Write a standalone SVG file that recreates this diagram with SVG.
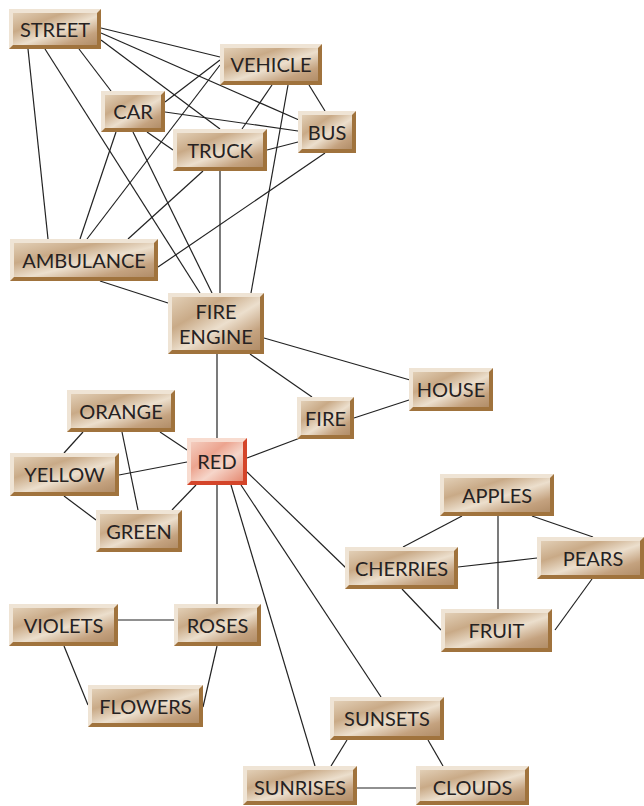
<svg xmlns="http://www.w3.org/2000/svg" width="644" height="806" viewBox="0 0 644 806">
  <defs>
    <linearGradient id="face" x1="0" y1="0" x2="1" y2="1">
      <stop offset="0" stop-color="#e2cfb6"/>
      <stop offset="0.3" stop-color="#c9aa87"/>
      <stop offset="0.55" stop-color="#ecdfcd"/>
      <stop offset="0.8" stop-color="#c4a27f"/>
      <stop offset="1" stop-color="#b18d68"/>
    </linearGradient>
    <linearGradient id="faceRed" x1="0" y1="0" x2="1" y2="1">
      <stop offset="0" stop-color="#f4cdbf"/>
      <stop offset="0.35" stop-color="#eca48f"/>
      <stop offset="0.6" stop-color="#f6d6ca"/>
      <stop offset="1" stop-color="#e58a72"/>
    </linearGradient>
    <style>
      .edges line { stroke: #222; stroke-width: 1.2; }
      .dark { fill: #a0733d; }
      .light { fill: #efe4d5; }
      .face { fill: url(#face); }
      .red .dark { fill: #d4452a; }
      .red .light { fill: #f8dcd0; }
      .red .face { fill: url(#faceRed); }
      text { font-family: Lato, "Liberation Sans", sans-serif; font-size: 20px; fill: #262222; text-anchor: middle; }
    </style>
  </defs>
  <rect width="644" height="806" fill="#ffffff"/>

  <g class="edges">
    <line x1="101" y1="28" x2="220" y2="57"/>
    <line x1="101" y1="33" x2="299" y2="120"/>
    <line x1="101" y1="40" x2="220" y2="129"/>
    <line x1="79" y1="49" x2="111" y2="91"/>
    <line x1="28" y1="49" x2="48" y2="239"/>
    <line x1="45" y1="49" x2="200" y2="293"/>
    <line x1="220" y1="60" x2="165" y2="102"/>
    <line x1="220" y1="65" x2="87" y2="239"/>
    <line x1="272" y1="85" x2="242" y2="129"/>
    <line x1="288" y1="85" x2="251" y2="293"/>
    <line x1="309" y1="85" x2="325" y2="111"/>
    <line x1="165" y1="112" x2="298" y2="131"/>
    <line x1="116" y1="132" x2="80" y2="239"/>
    <line x1="133" y1="132" x2="212" y2="293"/>
    <line x1="147" y1="132" x2="173" y2="150"/>
    <line x1="267" y1="150" x2="298" y2="142"/>
    <line x1="203" y1="171" x2="128" y2="239"/>
    <line x1="220" y1="171" x2="220" y2="293"/>
    <line x1="325" y1="153" x2="158" y2="267"/>
    <line x1="100" y1="281" x2="168" y2="303"/>
    <line x1="264" y1="338" x2="410" y2="380"/>
    <line x1="250" y1="354" x2="312" y2="397"/>
    <line x1="217" y1="354" x2="217" y2="438"/>
    <line x1="354" y1="418" x2="409" y2="400"/>
    <line x1="300" y1="438" x2="247" y2="458"/>
    <line x1="160" y1="432" x2="187" y2="450"/>
    <line x1="119" y1="475" x2="187" y2="462"/>
    <line x1="172" y1="510" x2="196" y2="485"/>
    <line x1="217" y1="485" x2="217" y2="604"/>
    <line x1="231" y1="485" x2="315" y2="766"/>
    <line x1="241" y1="485" x2="381" y2="697"/>
    <line x1="247" y1="472" x2="346" y2="568"/>
    <line x1="83" y1="432" x2="64" y2="453"/>
    <line x1="122" y1="432" x2="138" y2="510"/>
    <line x1="64" y1="496" x2="96" y2="520"/>
    <line x1="462" y1="516" x2="403" y2="547"/>
    <line x1="498" y1="516" x2="498" y2="609"/>
    <line x1="532" y1="516" x2="593" y2="537"/>
    <line x1="458" y1="567" x2="537" y2="558"/>
    <line x1="402" y1="589" x2="441" y2="630"/>
    <line x1="592" y1="579" x2="555" y2="630"/>
    <line x1="118" y1="620" x2="174" y2="620"/>
    <line x1="64" y1="646" x2="88" y2="705"/>
    <line x1="217" y1="646" x2="203" y2="707"/>
    <line x1="347" y1="740" x2="331" y2="766"/>
    <line x1="428" y1="740" x2="443" y2="766"/>
    <line x1="357" y1="788" x2="416" y2="788"/>
  </g>

  <!-- bevelled word boxes: dark base, light top/left bevel, gradient face -->
  <g id="street" transform="translate(9,9)">
    <rect class="dark" width="92" height="40"/>
    <polygon class="light" points="0,0 92,0 88,4 4,4 4,36 0,40"/>
    <rect class="face" x="4" y="4" width="84" height="32"/>
    <text x="46" y="27.5">STREET</text>
  </g>
  <g id="vehicle" transform="translate(220,44)">
    <rect class="dark" width="102" height="41"/>
    <polygon class="light" points="0,0 102,0 98,4 4,4 4,37 0,41"/>
    <rect class="face" x="4" y="4" width="94" height="33"/>
    <text x="51" y="28">VEHICLE</text>
  </g>
  <g id="car" transform="translate(101,91)">
    <rect class="dark" width="64" height="41"/>
    <polygon class="light" points="0,0 64,0 60,4 4,4 4,37 0,41"/>
    <rect class="face" x="4" y="4" width="56" height="33"/>
    <text x="32" y="28">CAR</text>
  </g>
  <g id="bus" transform="translate(298,111)">
    <rect class="dark" width="58" height="42"/>
    <polygon class="light" points="0,0 58,0 54,4 4,4 4,38 0,42"/>
    <rect class="face" x="4" y="4" width="50" height="34"/>
    <text x="29" y="28.5">BUS</text>
  </g>
  <g id="truck" transform="translate(173,129)">
    <rect class="dark" width="94" height="42"/>
    <polygon class="light" points="0,0 94,0 90,4 4,4 4,38 0,42"/>
    <rect class="face" x="4" y="4" width="86" height="34"/>
    <text x="47" y="28.5">TRUCK</text>
  </g>
  <g id="ambulance" transform="translate(10,239)">
    <rect class="dark" width="148" height="42"/>
    <polygon class="light" points="0,0 148,0 144,4 4,4 4,38 0,42"/>
    <rect class="face" x="4" y="4" width="140" height="34"/>
    <text x="74" y="28.5">AMBULANCE</text>
  </g>
  <g id="fire-engine" transform="translate(168,293)">
    <rect class="dark" width="96" height="61"/>
    <polygon class="light" points="0,0 96,0 92,4 4,4 4,57 0,61"/>
    <rect class="face" x="4" y="4" width="88" height="53"/>
    <text x="48" y="25.5">FIRE</text>
    <text x="48" y="50.5">ENGINE</text>
  </g>
  <g id="fire" transform="translate(297,397)">
    <rect class="dark" width="57" height="42"/>
    <polygon class="light" points="0,0 57,0 53,4 4,4 4,38 0,42"/>
    <rect class="face" x="4" y="4" width="49" height="34"/>
    <text x="28.5" y="28.5">FIRE</text>
  </g>
  <g id="house" transform="translate(409,368)">
    <rect class="dark" width="84" height="43"/>
    <polygon class="light" points="0,0 84,0 80,4 4,4 4,39 0,43"/>
    <rect class="face" x="4" y="4" width="76" height="35"/>
    <text x="42" y="29">HOUSE</text>
  </g>
  <g id="orange" transform="translate(67,390)">
    <rect class="dark" width="108" height="42"/>
    <polygon class="light" points="0,0 108,0 104,4 4,4 4,38 0,42"/>
    <rect class="face" x="4" y="4" width="100" height="34"/>
    <text x="54" y="28.5">ORANGE</text>
  </g>
  <g id="red" class="red" transform="translate(187,438)">
    <rect class="dark" width="60" height="47"/>
    <polygon class="light" points="0,0 60,0 56,4 4,4 4,43 0,47"/>
    <rect class="face" x="4" y="4" width="52" height="39"/>
    <text x="30" y="31">RED</text>
  </g>
  <g id="yellow" transform="translate(10,453)">
    <rect class="dark" width="109" height="43"/>
    <polygon class="light" points="0,0 109,0 105,4 4,4 4,39 0,43"/>
    <rect class="face" x="4" y="4" width="101" height="35"/>
    <text x="54.5" y="29">YELLOW</text>
  </g>
  <g id="green" transform="translate(96,510)">
    <rect class="dark" width="86" height="42"/>
    <polygon class="light" points="0,0 86,0 82,4 4,4 4,38 0,42"/>
    <rect class="face" x="4" y="4" width="78" height="34"/>
    <text x="43" y="28.5">GREEN</text>
  </g>
  <g id="apples" transform="translate(440,474)">
    <rect class="dark" width="114" height="42"/>
    <polygon class="light" points="0,0 114,0 110,4 4,4 4,38 0,42"/>
    <rect class="face" x="4" y="4" width="106" height="34"/>
    <text x="57" y="28.5">APPLES</text>
  </g>
  <g id="cherries" transform="translate(345,547)">
    <rect class="dark" width="113" height="42"/>
    <polygon class="light" points="0,0 113,0 109,4 4,4 4,38 0,42"/>
    <rect class="face" x="4" y="4" width="105" height="34"/>
    <text x="56.5" y="28.5">CHERRIES</text>
  </g>
  <g id="pears" transform="translate(537,537)">
    <rect class="dark" width="107" height="42"/>
    <polygon class="light" points="0,0 107,0 103,4 4,4 4,38 0,42"/>
    <rect class="face" x="4" y="4" width="99" height="34"/>
    <text x="56" y="28.5">PEARS</text>
  </g>
  <g id="fruit" transform="translate(441,609)">
    <rect class="dark" width="111" height="43"/>
    <polygon class="light" points="0,0 111,0 107,4 4,4 4,39 0,43"/>
    <rect class="face" x="4" y="4" width="103" height="35"/>
    <text x="55.5" y="29">FRUIT</text>
  </g>
  <g id="violets" transform="translate(9,604)">
    <rect class="dark" width="109" height="42"/>
    <polygon class="light" points="0,0 109,0 105,4 4,4 4,38 0,42"/>
    <rect class="face" x="4" y="4" width="101" height="34"/>
    <text x="54.5" y="28.5">VIOLETS</text>
  </g>
  <g id="roses" transform="translate(174,604)">
    <rect class="dark" width="87" height="42"/>
    <polygon class="light" points="0,0 87,0 83,4 4,4 4,38 0,42"/>
    <rect class="face" x="4" y="4" width="79" height="34"/>
    <text x="43.5" y="28.5">ROSES</text>
  </g>
  <g id="flowers" transform="translate(88,685)">
    <rect class="dark" width="115" height="42"/>
    <polygon class="light" points="0,0 115,0 111,4 4,4 4,38 0,42"/>
    <rect class="face" x="4" y="4" width="107" height="34"/>
    <text x="57.5" y="28.5">FLOWERS</text>
  </g>
  <g id="sunsets" transform="translate(330,697)">
    <rect class="dark" width="114" height="43"/>
    <polygon class="light" points="0,0 114,0 110,4 4,4 4,39 0,43"/>
    <rect class="face" x="4" y="4" width="106" height="35"/>
    <text x="57" y="29">SUNSETS</text>
  </g>
  <g id="sunrises" transform="translate(243,766)">
    <rect class="dark" width="114" height="39"/>
    <polygon class="light" points="0,0 114,0 110,4 4,4 4,35 0,39"/>
    <rect class="face" x="4" y="4" width="106" height="31"/>
    <text x="57" y="28.5">SUNRISES</text>
  </g>
  <g id="clouds" transform="translate(416,766)">
    <rect class="dark" width="113" height="39"/>
    <polygon class="light" points="0,0 113,0 109,4 4,4 4,35 0,39"/>
    <rect class="face" x="4" y="4" width="105" height="31"/>
    <text x="56.5" y="28.5">CLOUDS</text>
  </g>
</svg>
